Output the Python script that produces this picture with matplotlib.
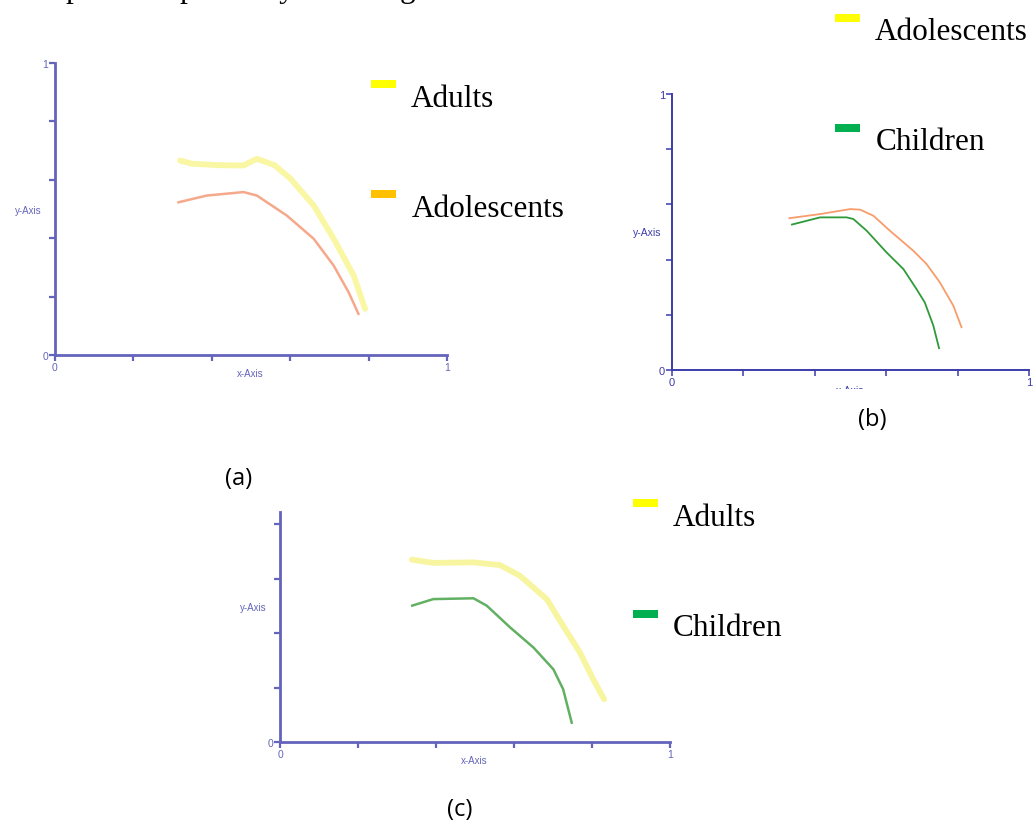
import matplotlib
matplotlib.use('Agg')
import matplotlib.pyplot as plt
from matplotlib.patches import Rectangle

# ---------------- data ----------------
a_x_adults = [0.319, 0.350, 0.420, 0.481, 0.515, 0.560, 0.600, 0.660, 0.711, 0.762, 0.791]
a_y_adults = [0.666, 0.655, 0.650, 0.649, 0.672, 0.650, 0.605, 0.512, 0.398, 0.272, 0.158]
a_x_adol = [0.315, 0.387, 0.481, 0.515, 0.591, 0.660, 0.711, 0.749, 0.774]
a_y_adol = [0.523, 0.546, 0.558, 0.546, 0.478, 0.398, 0.306, 0.215, 0.141]

b_x_adol = [0.329, 0.415, 0.499, 0.527, 0.564, 0.610, 0.676, 0.713, 0.750, 0.788, 0.811]
b_y_adol = [0.550, 0.565, 0.583, 0.581, 0.559, 0.505, 0.432, 0.384, 0.318, 0.233, 0.155]
b_x_child = [0.336, 0.415, 0.489, 0.508, 0.545, 0.601, 0.648, 0.685, 0.708, 0.732, 0.748]
b_y_child = [0.527, 0.553, 0.553, 0.547, 0.505, 0.426, 0.366, 0.293, 0.245, 0.161, 0.079]

c_x_adults = [0.338, 0.393, 0.496, 0.564, 0.615, 0.684, 0.726, 0.769, 0.803, 0.831]
c_y_adults = [0.670, 0.658, 0.660, 0.650, 0.611, 0.525, 0.427, 0.329, 0.231, 0.157]
c_x_child = [0.339, 0.393, 0.496, 0.530, 0.590, 0.650, 0.701, 0.726, 0.748]
c_y_child = [0.501, 0.525, 0.528, 0.501, 0.421, 0.347, 0.267, 0.194, 0.071]

x_ticks = [0, 0.2, 0.4, 0.6, 0.8, 1.0]
x_ticklabels = ['0', '', '', '', '', '1']
y_ticks = [0, 0.2, 0.4, 0.6, 0.8, 1.0]
y_ticklabels = ['0', '', '', '', '', '1']

legend_a = ['Adults', 'Adolescents']
legend_b = ['Adolescents', 'Children']
legend_c = ['Adults', 'Children']
captions = ['(a)', '(b)', '(c)']
top_text = 'compared respectively in the figures shown below'

# ---------------- layout helpers ----------------
W, H = 1033, 828
fig = plt.figure(figsize=(W / 100, H / 100), dpi=100)
fig.patch.set_facecolor('white')


def fx(x):
    return x / W


def fy(y):
    return 1 - y / H


def make_axes(x0, y_origin, x1, y_top, ymax, color, lw, fs):
    ax = fig.add_axes([fx(x0), fy(y_origin), (x1 - x0) / W, (y_origin - y_top) / H])
    ax.set_xlim(0, 1)
    ax.set_ylim(0, ymax)
    for s in ['top', 'right']:
        ax.spines[s].set_visible(False)
    for s in ['left', 'bottom']:
        ax.spines[s].set_color(color)
        ax.spines[s].set_linewidth(lw)
    ax.set_xticks(x_ticks)
    ax.set_xticklabels(x_ticklabels)
    yt = [t for t in y_ticks if t <= ymax + 1e-9]
    ax.set_yticks(yt)
    ax.set_yticklabels(y_ticklabels[:len(yt)])
    ax.tick_params(colors=color, width=lw * 0.8, length=4, labelsize=fs, pad=1)
    for lab in ax.get_xticklabels() + ax.get_yticklabels():
        lab.set_family('Liberation Sans')
    ax.patch.set_alpha(0)
    return ax


axis_col_ac = '#6464bc'
axis_col_b = '#3c3cac'

# ---------------- panel (a) ----------------
ax_a = make_axes(55, 356, 447, 64, 1.0, axis_col_ac, 2.0, 7.5)
ax_a.plot(a_x_adults, a_y_adults, color='#f9f6a4', lw=4.2, solid_capstyle='round')
ax_a.plot(a_x_adol, a_y_adol, color='#f5a88a', lw=1.8)
fig.text(fx(28), fy(211), 'y-Axis', color=axis_col_ac, fontsize=7, ha='center', va='center', family='Liberation Sans')
fig.text(fx(250), fy(374), 'x-Axis', color=axis_col_ac, fontsize=7, ha='center', va='center', family='Liberation Sans')

# ---------------- panel (b) ----------------
ax_b = make_axes(672, 371, 1029, 95, 1.0, axis_col_b, 1.4, 8)
ax_b.plot(b_x_adol, b_y_adol, color='#f79c6c', lw=1.3)
ax_b.plot(b_x_child, b_y_child, color='#2f9a3a', lw=1.3)
fig.text(fx(647), fy(233), 'y-Axis', color=axis_col_b, fontsize=7.5, ha='center', va='center', family='Liberation Sans')
fig.text(fx(850), fy(391), 'x-Axis', color=axis_col_b, fontsize=7.5, ha='center', va='center', family='Liberation Sans')
fig.patches.append(Rectangle((fx(825), fy(400)), 50 / W, 10 / H, transform=fig.transFigure,
                             facecolor='white', edgecolor='none', zorder=10))

# ---------------- panel (c) ----------------
ax_c = make_axes(280, 743, 670, 513, 0.845, axis_col_ac, 2.0, 7.5)
ax_c.plot(c_x_adults, c_y_adults, color='#f8f5a0', lw=4.2, solid_capstyle='round')
ax_c.plot(c_x_child, c_y_child, color='#62b062', lw=1.8)
fig.text(fx(253), fy(608), 'y-Axis', color=axis_col_ac, fontsize=7, ha='center', va='center', family='Liberation Sans')
fig.text(fx(474), fy(761), 'x-Axis', color=axis_col_ac, fontsize=7, ha='center', va='center', family='Liberation Sans')

# ---------------- legends ----------------
def legend_item(x_rect, y_rect, color, label, x_text, y_base):
    fig.patches.append(Rectangle((fx(x_rect), fy(y_rect + 8)), 25 / W, 8 / H, transform=fig.transFigure,
                                 facecolor=color, edgecolor='none'))
    fig.text(fx(x_text), fy(y_base), label, fontsize=22.5, family='Liberation Serif',
             ha='left', va='baseline', color='black')


legend_item(371, 81, '#ffff00', legend_a[0], 411, 107)
legend_item(371, 191, '#ffc000', legend_a[1], 412, 217)
legend_item(835, 15, '#ffff00', legend_b[0], 875, 40)
legend_item(835, 125, '#00b050', legend_b[1], 876, 150)
legend_item(633, 500, '#ffff00', legend_c[0], 673, 526)
legend_item(633, 611, '#00b050', legend_c[1], 673, 636)

# ---------------- captions ----------------
cap_font = ['Open Sans', 'DejaVu Sans']
fig.text(fx(239), fy(479), captions[0], fontsize=17, family=cap_font, ha='center', va='center')
fig.text(fx(872), fy(420), captions[1], fontsize=17, family=cap_font, ha='center', va='center')
fig.text(fx(460), fy(810), captions[2], fontsize=17, family=cap_font, ha='center', va='center')

# cut-off line of text at the very top (only its descenders show)
fig.text(fx(12), fy(-3), top_text, fontsize=22.5, family='Liberation Serif', ha='left', va='baseline')

fig.savefig('out.png', dpi=100, facecolor='white')
